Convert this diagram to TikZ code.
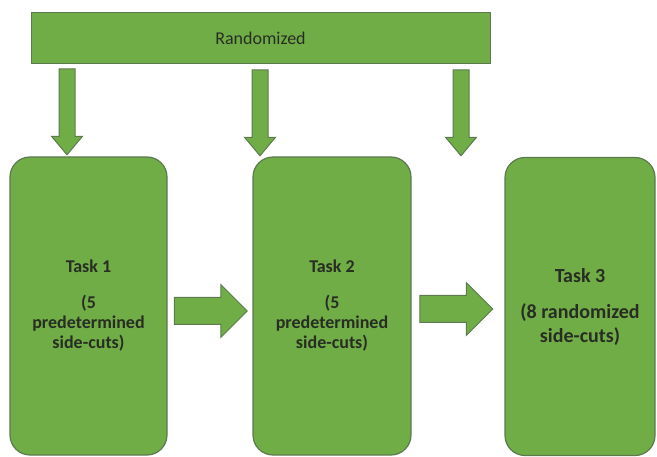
\documentclass[tikz,border=0pt]{standalone}
\usepackage{fontspec}
\setmainfont{Carlito}
\usetikzlibrary{shapes.arrows}
\definecolor{task_green}{RGB}{112, 173, 71}
\definecolor{task_edge}{RGB}{92, 122, 78}
\definecolor{task_text}{RGB}{40, 45, 35}
\tikzstyle{bar}=[rectangle,fill=task_green,draw=task_edge,line width=1pt,
  minimum width=459pt,minimum height=51pt,text=task_text,
  font=\fontsize{18}{20}\selectfont]
\tikzstyle{task}=[rectangle,rounded corners=20pt,fill=task_green,draw=task_edge,
  line width=1.2pt,minimum height=298pt,align=center,text=task_text,
  font=\bfseries\fontsize{18}{20}\selectfont]
\tikzstyle{downarrow}=[single arrow,rotate=-90,fill=task_green,draw=task_edge,
  line width=1pt,inner sep=7.5pt,single arrow head extend=7.5pt,
  single arrow tip angle=80,minimum height=86pt]
\tikzstyle{rightarrow}=[single arrow,fill=task_green,draw=task_edge,
  line width=1pt,inner sep=13pt,single arrow head extend=13pt,
  minimum height=73pt]

\begin{document}
\begin{tikzpicture}[x=10pt, y=10pt]
            \useasboundingbox (0, 0) rectangle (65.7, 45.6);
            \node [style=bar] (0) at (26.05, 41.75) {Randomized};
            \node [style=task, minimum width=157pt] (1) at (8.85, 15.0) {Task 1\\[16pt](5\\predetermined\\side-cuts)};
            \node [style=task, minimum width=158pt] (2) at (33.2, 15.0) {Task 2\\[16pt](5\\predetermined\\side-cuts)};
            \node [style=task, minimum width=150pt, font=\bfseries\fontsize{20}{24}\selectfont] (3) at (58.0, 14.95) {Task 3\\[12pt](8 randomized\\side-cuts)};
            \node [style=downarrow] (4) at (6.7, 34.9) {};
            \node [style=downarrow] (5) at (26.0, 34.8) {};
            \node [style=downarrow] (6) at (46.1, 34.8) {};
            \node [style=rightarrow] (7) at (20.4, 14.5) {};
            \node [style=rightarrow] (8) at (44.95, 14.7) {};
    \end{tikzpicture}
\end{document}
